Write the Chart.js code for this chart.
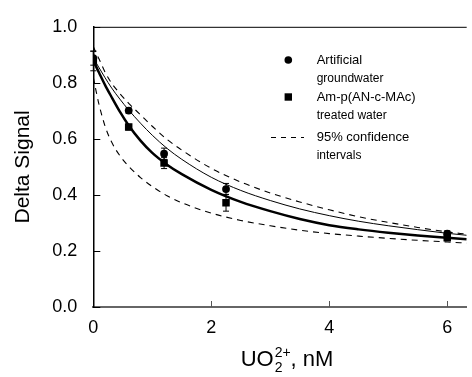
<!DOCTYPE html>
<html><head><meta charset="utf-8">
<script src="https://cdn.jsdelivr.net/npm/chart.js@4.4.0/dist/chart.umd.min.js"></script>
<style>html,body{margin:0;padding:0;background:#fff;}#wrap{width:472px;height:377px;}</style>
</head><body><div id="wrap"><canvas id="c" width="472" height="377"></canvas></div>
<script>
// ---- data ----
const concX = [0, 0.6, 1.2, 2.25, 6];
const artificial = [0.888, 0.701, 0.547, 0.421, 0.262];
const artificialErr = [0.025, 0.01, 0.02, 0.02, 0.01];
const treated = [0.878, 0.642, 0.514, 0.372, 0.247];
const treatedErr = [0.035, 0.01, 0.02, 0.03, 0.01];

const curveX = [0, 0.05, 0.1, 0.2, 0.3, 0.45, 0.6, 0.8, 1.0, 1.25, 1.5, 2.0, 2.5, 3.0, 3.5, 4.0, 4.5, 5.0, 5.5, 6.0, 6.33];
const fitArtificial = [0.89, 0.871, 0.853, 0.818, 0.785, 0.742, 0.703, 0.656, 0.613, 0.566, 0.527, 0.463, 0.416, 0.38, 0.35, 0.326, 0.306, 0.29, 0.276, 0.263, 0.256];
const fitTreated = [0.88, 0.857, 0.835, 0.792, 0.753, 0.697, 0.648, 0.594, 0.55, 0.508, 0.474, 0.418, 0.375, 0.342, 0.314, 0.292, 0.277, 0.265, 0.255, 0.247, 0.242];
const ciUpper = [0.93, 0.905, 0.884, 0.838, 0.802, 0.762, 0.727, 0.686, 0.645, 0.598, 0.56, 0.495, 0.446, 0.407, 0.375, 0.347, 0.322, 0.302, 0.284, 0.268, 0.26];
const ciLower = [0.82, 0.768, 0.72, 0.645, 0.593, 0.54, 0.502, 0.462, 0.43, 0.397, 0.372, 0.335, 0.309, 0.29, 0.274, 0.262, 0.253, 0.245, 0.238, 0.232, 0.228];

const xTicks = [0, 2, 4, 6];
const yTicks = [0, 0.2, 0.4, 0.6, 0.8, 1.0];
const legendLabels = [["Artificial", "groundwater"], ["Am-p(AN-c-MAc)", "treated water"], ["95% confidence", "intervals"]];
const xTitle = ["UO", "2", "2+", ", nM"];
const yTitle = "Delta Signal";

const FONT = '"Liberation Sans", Arial, sans-serif';
const pts = (xs, ys) => xs.map((x, i) => ({x: x, y: ys[i]}));

const lineDs = (ys, w, dash) => ({
  type: 'line', data: pts(curveX, ys), borderColor: '#000', borderWidth: w,
  borderDash: dash, pointRadius: 0, fill: false, cubicInterpolationMode: 'monotone', showLine: true
});

const extras = {
  id: 'extras',
  beforeDatasetsDraw(chart) {
    const {ctx, scales: {x, y}} = chart;
    ctx.save();
    ctx.strokeStyle = '#000'; ctx.lineWidth = 1;
    const bars = (vals, errs) => vals.forEach((v, i) => {
      const px = x.getPixelForValue(concX[i]);
      const t = y.getPixelForValue(v + errs[i]), b = y.getPixelForValue(v - errs[i]);
      ctx.beginPath();
      ctx.moveTo(px, t); ctx.lineTo(px, b);
      ctx.moveTo(px - 3, t); ctx.lineTo(px + 3, t);
      ctx.moveTo(px - 3, b); ctx.lineTo(px + 3, b);
      ctx.stroke();
    });
    bars(artificial, artificialErr);
    bars(treated, treatedErr);
    ctx.restore();
  },
  afterDraw(chart) {
    const {ctx, chartArea: ca, scales: {x, y}} = chart;
    ctx.save();
    // top border
    ctx.strokeStyle = '#000'; ctx.lineWidth = 1;
    ctx.beginPath(); ctx.moveTo(ca.left, ca.top + 0.5); ctx.lineTo(ca.right, ca.top + 0.5); ctx.stroke();
    // inner ticks
    ctx.beginPath();
    yTicks.forEach(v => { const py = Math.round(y.getPixelForValue(v)) + 0.5; ctx.moveTo(ca.left, py); ctx.lineTo(ca.left + 7, py); });
    ctx.stroke();
    ctx.strokeStyle = '#555';
    ctx.beginPath();
    xTicks.forEach(v => { if (v === 0) return; const px = Math.round(x.getPixelForValue(v)) + 0.5; ctx.moveTo(px, ca.bottom); ctx.lineTo(px, ca.bottom - 6); });
    ctx.stroke();
    // legend
    const lx = 288.3, tx = 316.7;
    const rows = [60, 97, 137];
    ctx.fillStyle = '#000';
    ctx.beginPath(); ctx.arc(lx, rows[0], 3.8, 0, Math.PI * 2); ctx.fill();
    ctx.fillRect(lx - 3.7, rows[1] - 3.7, 7.4, 7.4);
    ctx.strokeStyle = '#000'; ctx.lineWidth = 1; ctx.setLineDash([5, 5]);
    ctx.beginPath(); ctx.moveTo(271, rows[2] + 0.5); ctx.lineTo(304, rows[2] + 0.5); ctx.stroke();
    ctx.setLineDash([]);
    ctx.textBaseline = 'middle'; ctx.textAlign = 'left';
    legendLabels.forEach((lab, i) => {
      ctx.font = '13px ' + FONT; ctx.fillText(lab[0], tx, rows[i]);
      ctx.font = '12px ' + FONT; ctx.fillText(lab[1], tx, rows[i] + 19);
    });
    // x title with sub/superscript
    ctx.textBaseline = 'alphabetic';
    const big = '22px ' + FONT, small = '14px ' + FONT;
    ctx.font = big; const w1 = ctx.measureText(xTitle[0]).width; const w4 = ctx.measureText(xTitle[3]).width;
    ctx.font = small; const w2 = ctx.measureText(xTitle[1]).width; const w3 = ctx.measureText(xTitle[2]).width;
    const total = w1 + 1 + Math.max(w2, w3) + w4;
    let x0 = 287 - total / 2; const by = 366;
    ctx.font = big; ctx.fillText(xTitle[0], x0, by);
    ctx.font = small; ctx.fillText(xTitle[1], x0 + w1 + 1, by + 6); ctx.fillText(xTitle[2], x0 + w1 + 1, by - 9);
    ctx.font = big; ctx.fillText(xTitle[3], x0 + w1 + 1 + Math.max(w2, w3), by);
    ctx.restore();
  }
};

new Chart(document.getElementById('c'), {
  type: 'scatter',
  data: {
    datasets: [
      {label: 'Artificial groundwater', data: pts(concX, artificial), pointStyle: 'circle', pointRadius: 3.9, backgroundColor: '#000', borderColor: '#000', borderWidth: 0},
      {label: 'Am-p(AN-c-MAc) treated water', data: pts(concX, treated), pointStyle: 'rect', pointRadius: 5.3, backgroundColor: '#000', borderColor: '#000', borderWidth: 0},
      lineDs(fitArtificial, 1, []),
      lineDs(fitTreated, 2.5, []),
      lineDs(ciUpper, 1.1, [6, 5]),
      lineDs(ciLower, 1.1, [6, 5])
    ]
  },
  options: {
    responsive: false, animation: false, devicePixelRatio: 1,
    layout: {padding: {top: 20, right: 0, left: 0, bottom: 0}},
    plugins: {legend: {display: false}, tooltip: {enabled: false}},
    scales: {
      x: {
        type: 'linear', min: 0, max: 6.33,
        afterBuildTicks: s => { s.ticks = xTicks.map(v => ({value: v})); },
        afterFit: s => { s.height = 70; },
        ticks: {font: {size: 18, family: FONT}, color: '#000', padding: 10, maxRotation: 0, callback: v => String(v)},
        grid: {display: false, drawTicks: false},
        border: {display: true, color: '#666', width: 2}
      },
      y: {
        min: 0, max: 1,
        afterBuildTicks: s => { s.ticks = yTicks.map(v => ({value: v})); },
        afterFit: s => { s.width = 93.3; },
        ticks: {font: {size: 18, family: FONT}, color: '#000', padding: 16, callback: v => Number(v).toFixed(1)},
        grid: {display: false, drawTicks: false},
        border: {display: true, color: '#000', width: 1.5},
        title: {display: true, text: yTitle, color: '#000', font: {size: 21, family: FONT}, padding: {top: 11, bottom: 0}}
      }
    }
  },
  plugins: [extras]
});
</script>
</body></html>
